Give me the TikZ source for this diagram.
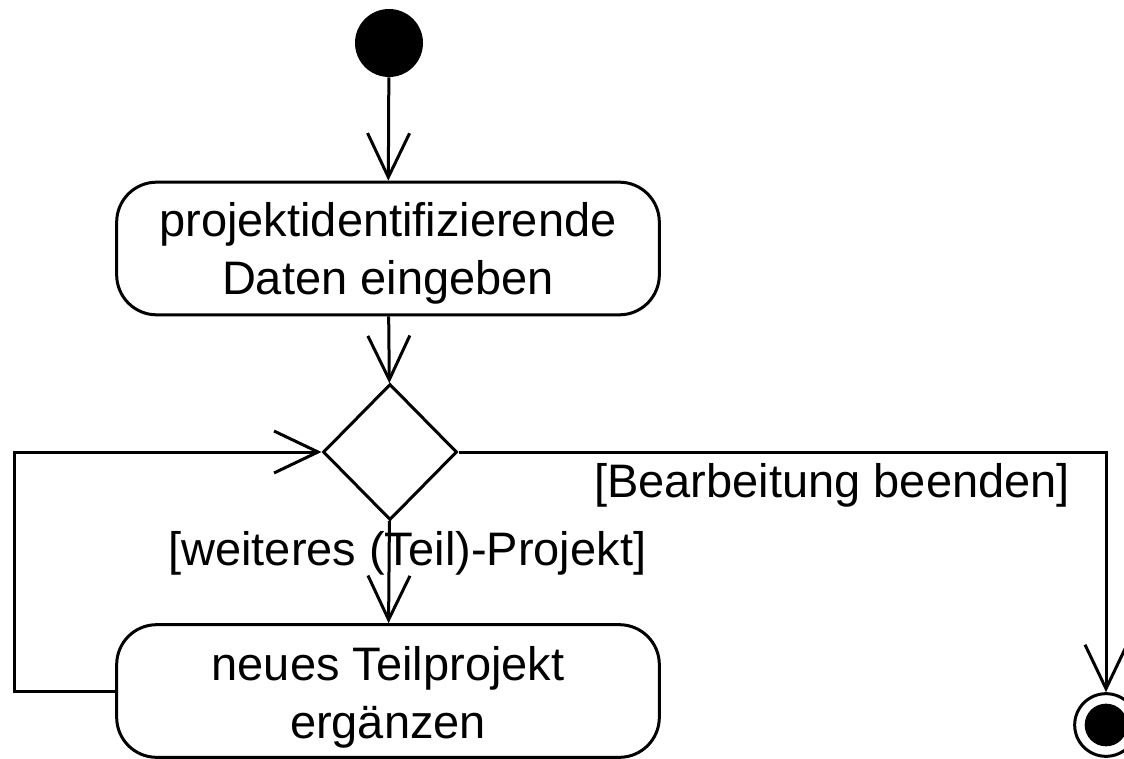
\documentclass[tikz,border=0pt]{standalone}
\usepackage{fontspec}
\setmainfont{Liberation Sans}
\usetikzlibrary{arrows.meta,shapes.geometric}

\tikzset{
  flow/.style={line width=2.25pt, -{Straight Barb[length=33pt,width=31.5pt,line width=2.25pt]}},
  activity/.style={draw, line width=2.25pt, rounded corners=30pt, minimum width=407pt, minimum height=99.5pt, align=center, inner sep=0pt},
  decision/.style={draw, diamond, line width=2.25pt, inner sep=0pt, minimum width=100.5pt, minimum height=102pt},
  guard/.style={anchor=base west, inner sep=0pt}
}
\newcommand{\firstline}[1]{\rule{0pt}{#1}}

\begin{document}
\begin{tikzpicture}[x=0.75pt,y=0.75pt,yscale=-1,xscale=1,font=\fontsize{35.25}{43.5}\selectfont]
\useasboundingbox (0,0) rectangle (1124,759);

%Shape: Start [id:start]
\draw (389,43) node [circle, fill=black, minimum size=51pt, inner sep=0pt] (start) {};
%Shape: Activity [id:act1]
\draw (388,248.5) node [activity] (act1) {\firstline{33pt}projektidentifizierende\\Daten eingeben};
%Shape: Decision [id:dec]
\draw (390,452) node [decision] (dec) {};
%Shape: Activity [id:act2]
\draw (388,691) node [activity] (act2) {\firstline{35pt}neues Teilprojekt\\ergänzen};
%Shape: Final [id:final]
\draw (1106,725) node [circle, draw, line width=2.25pt, minimum size=47pt, inner sep=0pt] (final) {};
\draw (final.center) node [circle, fill=black, minimum size=32pt, inner sep=0pt] (finaldot) {};

\coordinate (loopc) at (14,452);
\coordinate (exitc) at (1106,452);

%Straight Lines
\draw [flow] (start) -- (act1);
\draw [flow] (act1) -- (dec);
\draw [flow] (dec) -- (act2);
\draw [flow] (act2.west) -| (loopc) -- (dec.west);
\draw [flow] (dec.east) -- (exitc) -- (final.north);

% Text Node
\draw (594,497) node [guard] (gend) {[Bearbeitung beenden]};
% Text Node
\draw (168,565) node [guard] (gmore) {[weiteres (Teil)-Projekt]};
\end{tikzpicture}
\end{document}
